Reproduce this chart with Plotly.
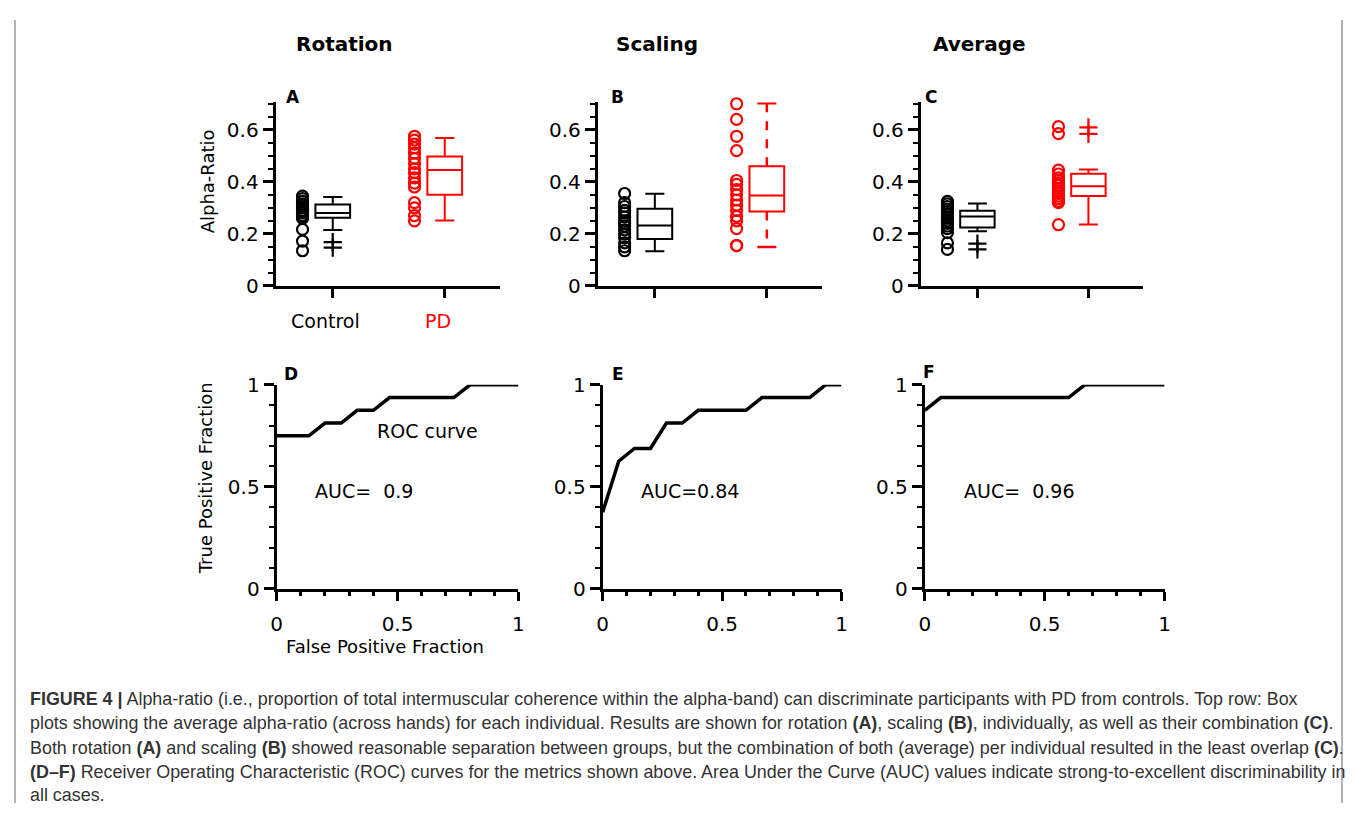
import plotly.graph_objects as go

# page body has an 8px margin: the figure is sized to fit inside the viewport
PAGE_W, PAGE_H, OFF = 1357, 823, 8
W, H = PAGE_W - 2 * OFF, PAGE_H - 2 * OFF

# ---------------- data ----------------
groups = ["Control", "PD"]
group_colors = ["black", "red"]
col_titles = ["Rotation", "Scaling", "Average"]
panel_letters = ["A", "B", "C", "D", "E", "F"]

# individual alpha-ratio values (circles)
rot_ctrl = [0.345, 0.335, 0.325, 0.315, 0.31, 0.30, 0.29, 0.285, 0.28, 0.27, 0.265, 0.26, 0.217, 0.172, 0.135]
rot_pd = [0.575, 0.56, 0.545, 0.53, 0.51, 0.49, 0.47, 0.45, 0.435, 0.415, 0.395, 0.38, 0.32, 0.30, 0.27, 0.25]
scl_ctrl = [0.355, 0.32, 0.305, 0.29, 0.28, 0.265, 0.25, 0.24, 0.23, 0.215, 0.20, 0.185, 0.165, 0.15, 0.135]
scl_pd = [0.70, 0.64, 0.575, 0.52, 0.405, 0.39, 0.37, 0.35, 0.33, 0.31, 0.29, 0.267, 0.25, 0.22, 0.155, 0.155]
avg_ctrl = [0.325, 0.315, 0.305, 0.295, 0.285, 0.275, 0.265, 0.26, 0.25, 0.24, 0.23, 0.22, 0.205, 0.165, 0.14]
avg_pd = [0.612, 0.585, 0.445, 0.43, 0.415, 0.405, 0.395, 0.385, 0.375, 0.365, 0.355, 0.345, 0.335, 0.325, 0.32, 0.235]

# box statistics [Control, PD]
rot_q1 = [0.262, 0.350]
rot_med = [0.280, 0.445]
rot_q3 = [0.313, 0.497]
rot_lo = [0.215, 0.251]
rot_hi = [0.342, 0.568]
rot_out = [[0.168, 0.147], []]

scl_q1 = [0.180, 0.286]
scl_med = [0.232, 0.347]
scl_q3 = [0.296, 0.460]
scl_lo = [0.133, 0.149]
scl_hi = [0.354, 0.702]
scl_out = [[], []]

avg_q1 = [0.224, 0.345]
avg_med = [0.267, 0.383]
avg_q3 = [0.289, 0.431]
avg_lo = [0.210, 0.236]
avg_hi = [0.317, 0.447]
avg_out = [[0.162, 0.140], [0.609, 0.584]]

# ROC curves
roc_rot_fpr = [0, 0.133, 0.2, 0.267, 0.333, 0.4, 0.467, 0.733, 0.8, 1.0]
roc_rot_tpr = [0.75, 0.75, 0.8125, 0.8125, 0.875, 0.875, 0.9375, 0.9375, 1.0, 1.0]
roc_scl_fpr = [0, 0.067, 0.133, 0.2, 0.267, 0.333, 0.4, 0.6, 0.667, 0.867, 0.933, 1.0]
roc_scl_tpr = [0.375, 0.625, 0.6875, 0.6875, 0.8125, 0.8125, 0.875, 0.875, 0.9375, 0.9375, 1.0, 1.0]
roc_avg_fpr = [0, 0.067, 0.6, 0.667, 1.0]
roc_avg_tpr = [0.875, 0.9375, 0.9375, 1.0, 1.0]
auc_labels = ["AUC=  0.9", "AUC=0.84", "AUC=  0.96"]

caption_lines = [
    "<b>FIGURE 4 |</b> Alpha-ratio (i.e., proportion of total intermuscular coherence within the alpha-band) can discriminate participants with PD from controls. Top row: Box",
    "plots showing the average alpha-ratio (across hands) for each individual. Results are shown for rotation <b>(A)</b>, scaling <b>(B)</b>, individually, as well as their combination <b>(C)</b>.",
    "Both rotation <b>(A)</b> and scaling <b>(B)</b> showed reasonable separation between groups, but the combination of both (average) per individual resulted in the least overlap <b>(C)</b>.",
    "<b>(D–F)</b> Receiver Operating Characteristic (ROC) curves for the metrics shown above. Area Under the Curve (AUC) values indicate strong-to-excellent discriminability in",
    "all cases.",
]

# ---------------- style / layout constants ----------------
FONT = "DejaVu Sans"
CAP_FONT = "Liberation Sans"
circle_offset = -0.27
box_w = 0.31
whisker_frac = 0.55

pts_all = [[rot_ctrl, rot_pd], [scl_ctrl, scl_pd], [avg_ctrl, avg_pd]]
stats_all = [
    (rot_q1, rot_med, rot_q3, rot_lo, rot_hi, rot_out),
    (scl_q1, scl_med, scl_q3, scl_lo, scl_hi, scl_out),
    (avg_q1, avg_med, avg_q3, avg_lo, avg_hi, avg_out),
]
dashed = [[False, False], [False, True], [False, False]]
rocs = [(roc_rot_fpr, roc_rot_tpr), (roc_scl_fpr, roc_scl_tpr), (roc_avg_fpr, roc_avg_tpr)]


def xp(px):
    """page pixel x -> paper fraction"""
    return (px - OFF) / W


def yp(py):
    """page pixel y -> paper fraction"""
    return 1 - (py - OFF) / H


top_xdom = [(272, 498), (597, 823), (923, 1147)]
top_ydom = (93, 282)
bot_xdom = [(273, 517), (602, 843), (927, 1169)]
bot_ydom = (384, 594)

fig = go.Figure()

for i in range(3):
    sfx = "" if i == 0 else str(i + 1)
    xa, ya = "x" + sfx, "y" + sfx
    q1, med, q3, lo, hi, outs = stats_all[i]
    for g in range(2):
        col = group_colors[g]
        pos = g + 1
        pts = pts_all[i][g]
        fig.add_trace(go.Scatter(
            x=[pos + circle_offset] * len(pts), y=pts, mode="markers",
            marker=dict(symbol="circle-open", size=11, color=col, line=dict(width=2.2, color=col)),
            xaxis=xa, yaxis=ya, showlegend=False, cliponaxis=False))
        if dashed[i][g]:
            fig.add_trace(go.Box(
                x=[pos], q1=[q1[g]], median=[med[g]], q3=[q3[g]],
                lowerfence=[q1[g]], upperfence=[q3[g]], width=box_w, whiskerwidth=0,
                line=dict(color=col, width=2), fillcolor="rgba(0,0,0,0)", boxpoints=False,
                xaxis=xa, yaxis=ya, showlegend=False))
            fig.add_trace(go.Scatter(
                x=[pos, pos, None, pos, pos], y=[q3[g], hi[g], None, q1[g], lo[g]], mode="lines",
                line=dict(color=col, width=2.5, dash="dash"), xaxis=xa, yaxis=ya, showlegend=False))
            cw = box_w * whisker_frac / 2
            fig.add_trace(go.Scatter(
                x=[pos - cw, pos + cw, None, pos - cw, pos + cw], y=[hi[g], hi[g], None, lo[g], lo[g]],
                mode="lines", line=dict(color=col, width=2.5), xaxis=xa, yaxis=ya, showlegend=False))
        else:
            fig.add_trace(go.Box(
                x=[pos], q1=[q1[g]], median=[med[g]], q3=[q3[g]],
                lowerfence=[lo[g]], upperfence=[hi[g]], width=box_w, whiskerwidth=whisker_frac,
                line=dict(color=col, width=2), fillcolor="rgba(0,0,0,0)", boxpoints=False,
                xaxis=xa, yaxis=ya, showlegend=False))
        if outs[g]:
            fig.add_trace(go.Scatter(
                x=[pos] * len(outs[g]), y=outs[g], mode="markers",
                marker=dict(symbol="cross-thin", size=13, color=col, line=dict(width=2.2, color=col)),
                xaxis=xa, yaxis=ya, showlegend=False, cliponaxis=False))

    # ROC
    sfx2 = str(i + 4)
    fpr, tpr = rocs[i]
    fig.add_trace(go.Scatter(
        x=fpr, y=tpr, mode="lines", line=dict(color="black", width=3.5),
        xaxis="x" + sfx2, yaxis="y" + sfx2, showlegend=False, cliponaxis=False))

axis_common = dict(showline=True, linewidth=3, linecolor="black", showgrid=False, zeroline=False,
                   ticks="outside", tickwidth=3, tickcolor="black",
                   tickfont=dict(family=FONT, size=20, color="black"))

layout_axes = {}
for i in range(3):
    sfx = "" if i == 0 else str(i + 1)
    layout_axes["xaxis" + sfx] = dict(
        axis_common, domain=[xp(top_xdom[i][0]), xp(top_xdom[i][1])], range=[0.49, 2.49],
        tickmode="array", tickvals=[1, 2], showticklabels=False, ticklen=9,
        anchor="y" + sfx, fixedrange=True)
    layout_axes["yaxis" + sfx] = dict(
        axis_common, domain=[yp(top_ydom[1]), yp(top_ydom[0])], range=[0, 0.705],
        tickmode="linear", tick0=0, dtick=0.2, ticklen=10,
        minor=dict(dtick=0.05, tick0=0, ticks="outside", ticklen=5, tickwidth=2, tickcolor="black"),
        anchor="x" + sfx, fixedrange=True)
    sfx2 = str(i + 4)
    layout_axes["xaxis" + sfx2] = dict(
        axis_common, domain=[xp(bot_xdom[i][0]), xp(bot_xdom[i][1])], range=[0, 1],
        tickmode="linear", tick0=0, dtick=0.5, ticklen=9, ticklabelstandoff=6,
        minor=dict(dtick=0.1, tick0=0, ticks="outside", ticklen=4, tickwidth=3, tickcolor="black"),
        anchor="y" + sfx2, fixedrange=True)
    layout_axes["yaxis" + sfx2] = dict(
        axis_common, domain=[yp(bot_ydom[1]), yp(bot_ydom[0])], range=[0, 1],
        tickmode="linear", tick0=0, dtick=0.5, ticklen=10,
        minor=dict(dtick=0.1, tick0=0, ticks="outside", ticklen=5, tickwidth=2, tickcolor="black"),
        anchor="x" + sfx2, fixedrange=True)


def ann(text, x, y, size, color="black", family=FONT, xanchor="center", angle=0):
    return dict(text=text, x=xp(x), y=yp(y), xref="paper", yref="paper", xanchor=xanchor,
                yanchor="middle", textangle=angle, showarrow=False,
                font=dict(family=family, size=size, color=color))


annotations = []
# column titles
title_x = [341, 657, 982]
for t, x in zip(col_titles, title_x):
    annotations.append(ann("<b>%s</b>" % t, x, 33, 20))
# panel letters
letter_pos = [(290, 87), (617, 87), (933, 87), (288, 373), (617, 373), (931, 371)]
for L, (x, y) in zip(panel_letters, letter_pos):
    annotations.append(ann("<b>%s</b>" % L, x, y, 17))
# group labels under panel A (positioned on the category axis)
for g in range(2):
    annotations.append(dict(text=groups[g], x=g + 1, y=yp(318), xref="x", yref="paper", xshift=-7,
                            xanchor="center", yanchor="middle", showarrow=False,
                            font=dict(family=FONT, size=19, color=group_colors[g])))
# axis titles
annotations.append(ann("Alpha-Ratio", 203, 174, 18, angle=-90))
annotations.append(ann("True Positive Fraction", 202, 480, 18, angle=-90))
annotations.append(ann("False Positive Fraction", 382, 654, 18))
annotations.append(ann("ROC curve", 425, 432, 19))
auc_pos = [(310, 493), (639, 493), (965, 493)]
for lab, (x, y) in zip(auc_labels, auc_pos):
    annotations.append(ann(lab, x, y, 19, xanchor="left"))
# caption
cap_y = [708, 733, 758, 783, 807]
for line, y in zip(caption_lines, cap_y):
    annotations.append(ann(line, 22, y, 17.9, color="#333333", family=CAP_FONT, xanchor="left"))

shapes = [
    dict(type="line", xref="paper", yref="paper", x0=xp(9), x1=xp(9), y0=0, y1=1,
         line=dict(color="#999999", width=1.5)),
    dict(type="line", xref="paper", yref="paper", x0=xp(1348), x1=xp(1348), y0=0, y1=1,
         line=dict(color="#999999", width=1.5)),
]

fig.update_layout(
    width=W, height=H, margin=dict(l=0, r=0, t=0, b=0),
    paper_bgcolor="white", plot_bgcolor="white",
    annotations=annotations, shapes=shapes, boxmode="overlay",
    **layout_axes,
)

fig.write_html("out.html")
